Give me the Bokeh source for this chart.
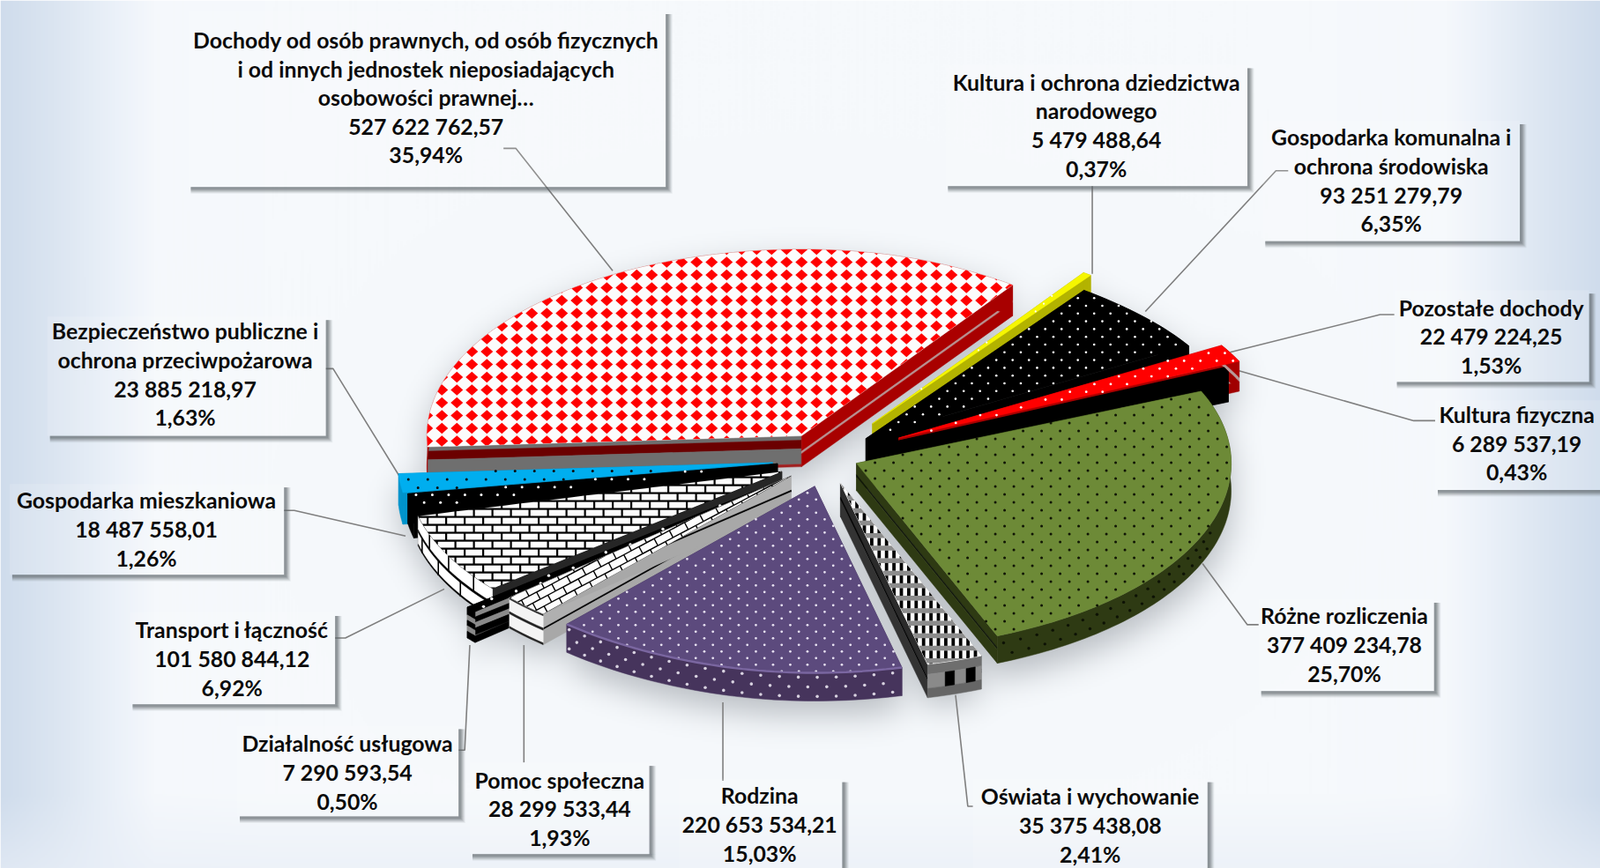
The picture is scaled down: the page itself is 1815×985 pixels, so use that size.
import numpy as np
from bokeh.plotting import figure
from bokeh.models import Range1d
from bokeh.core.properties import value
from bokeh.embed import file_html
from bokeh.resources import INLINE

# ---------- data ----------
names = [
    ["Kultura i ochrona dziedzictwa", "narodowego"],
    ["Gospodarka komunalna i", "ochrona środowiska"],
    ["Pozostałe dochody"],
    ["Kultura fizyczna"],
    ["Różne rozliczenia"],
    ["Oświata i wychowanie"],
    ["Rodzina"],
    ["Pomoc społeczna"],
    ["Działalność usługowa"],
    ["Transport i łączność"],
    ["Gospodarka mieszkaniowa"],
    ["Bezpieczeństwo publiczne i", "ochrona przeciwpożarowa"],
    ["Dochody od osób prawnych, od osób fizycznych", "i od innych jednostek nieposiadających", "osobowości prawnej…"],
]
amounts = [5479488.64, 93251279.79, 22479224.25, 6289537.19, 377409234.78, 35375438.08,
           220653534.21, 28299533.44, 7290593.54, 101580844.12, 18487558.01, 23885218.97,
           527622762.57]
percents = [0.37, 6.35, 1.53, 0.43, 25.70, 2.41, 15.03, 1.93, 0.50, 6.92, 1.26, 1.63, 35.94]
explode = [97, 65, 97, 75, 38, 60, 58, 58, 109, 59, 59, 66, 56]
nudge_x = [0, 0, 0, 0, 2, 0, 2, 2, 4, 3, 3, 5, 0]
nudge_y = [0, 0, 0, 0, 0, 2, 6, 2, 4, 4, 2, 3, 0]
depths = [34, 34, 34, 34, 31, 38, 32, 35, 35, 34, 34, 36, 35]

# ---------- layout ----------
W, H = 1815, 985
S = 1815 / 1568
CX, CY, R, K, DEPTH, START = 935, 518, 425, 0.498, 34, 36.0
ctop = lambda y: H - y

# box (l,t,r,b), centre x, first line y, line step -- reference px / S
boxes = [
    (926, 63, 1222, 182, 1074, 81, 28.2),
    (1237, 118, 1489, 236, 1363, 135, 28.2),
    (1366, 284, 1557, 374, 1461, 302, 28.2),
    (1406, 392, 1575, 480, 1486, 407, 28.2),
    (1233, 587, 1405, 677, 1317, 604, 28.4),
    (953, 763, 1183, 870, 1068, 781, 28.4),
    (665, 763, 825, 870, 744, 780, 28.6),
    (460, 747, 636, 837, 548, 765, 28.4),
    (232, 711, 449, 800, 340, 729, 28.4),
    (127, 600, 328, 690, 227, 618, 28.4),
    (9, 474, 278, 563, 143, 491, 28.4),
    (46, 310, 319, 427, 181, 325, 28.3),
    (184, 10, 652, 183, 417, 40, 28.0),
]
leaders = [
    [(1070, 182), (1070, 268)],
    [(1262, 167), (1250, 167), (1122, 305)],
    [(1366, 308), (1352, 308), (1205, 345)],
    [(1406, 412), (1385, 412), (1210, 362)],
    [(1233, 612), (1222, 612), (1178, 552)],
    [(953, 790), (948, 790), (936, 681)],
    [(708, 765), (708, 688)],
    [(513, 747), (513, 632)],
    [(449, 735), (455, 735), (460, 632)],
    [(328, 625), (338, 625), (435, 577)],
    [(278, 500), (288, 500), (397, 525)],
    [(319, 361), (326, 361), (392, 468)],
    [(493, 145), (505, 145), (600, 265)],
]

# ---------- geometry from values ----------
total = sum(amounts)
spans = [v / total * 360 for v in amounts]
a_from = START + np.concatenate([[0], np.cumsum(spans)[:-1]])
a_to = a_from + np.array(spans)


def pt(tip, a, r=R):
    # slight perspective: the front of the pie turns towards the viewer, the far right narrows
    m = a % 360
    a = a - 2.2 * np.exp(-((m - 168) / 38.0) ** 2)
    sx = 1 - .045 * np.exp(-((m - 30) / 22.0) ** 2) - .045 * np.exp(-((m - 195) / 28.0) ** 2)
    t = np.radians(a)
    return np.array([tip[0] + sx * r * np.sin(t), tip[1] - K * r * np.cos(t)])


def slice_geo(i):
    mid = (a_from[i] + a_to[i]) / 2
    tip = pt((CX, CY), mid, explode[i] * 415 / R) + [nudge_x[i], nudge_y[i]]
    ang = np.linspace(a_from[i], a_to[i], max(6, int(spans[i] / 1.2)))
    arc = np.array([pt(tip, a) for a in ang])
    top = np.vstack([[tip], arc])
    return tip, ang, arc, top


# ---------- background with soft shadow ----------
sc = 2
w2, h2 = W // sc, H // sc
xx, yy = np.meshgrid((np.arange(w2) + .5) * sc, (np.arange(h2) + .5) * sc)
edge = np.minimum(xx, W - xx)
stops_d = [0, 60, 130, 175, 300]
stops_c = [(207, 220, 236), (219, 229, 241), (235, 241, 249), (245, 248, 252), (246, 249, 252)]
img = np.stack([np.interp(edge, stops_d, [c[j] for c in stops_c]) for j in range(3)], axis=-1)
bot = np.clip((yy - 900) / 85, 0, 1)[..., None]
img = img * (1 - bot * .65) + np.array([232, 238, 247]) * bot * .65

mask = np.zeros((h2, w2))
for i in range(len(amounts)):
    _, _, _, top = slice_geo(i)
    for dz in (0, DEPTH / 2, DEPTH):
        q = top + [0, dz + 14]
        ok = np.ones_like(mask, bool)
        area = np.sum(q[:, 0] * np.roll(q[:, 1], -1) - np.roll(q[:, 0], -1) * q[:, 1])
        sgn = np.sign(area)
        for a, b in zip(q, np.roll(q, -1, axis=0)):
            ok &= sgn * ((b[0] - a[0]) * (yy - a[1]) - (b[1] - a[1]) * (xx - a[0])) >= 0
        mask[ok] = 1
fy = np.fft.fftfreq(h2)[:, None]
fx = np.fft.fftfreq(w2)[None, :]
sig = 9.0
blur = np.real(np.fft.ifft2(np.fft.fft2(mask) * np.exp(-2 * (np.pi * sig) ** 2 * (fx ** 2 + fy ** 2))))
alpha = np.clip(blur, 0, 1)[..., None] * .38
img = img * (1 - alpha) + np.array([88, 95, 104]) * alpha
rgba = np.zeros((h2, w2), dtype=np.uint32)
view = rgba.view(np.uint8).reshape(h2, w2, 4)
view[..., :3] = np.clip(img, 0, 255).astype(np.uint8)
view[..., 3] = 255

p = figure(width=W, height=H, x_range=Range1d(0, W), y_range=Range1d(0, H),
           output_backend="svg", toolbar_location=None, min_border=0)
p.axis.visible = False
p.grid.visible = False
p.outline_line_color = None
p.image_rgba(image=[rgba[::-1]], x=0, y=0, dw=W, dh=H)

# ---------- leader lines ----------
for seg in leaders:
    p.line([a * S for a, _ in seg], [ctop(b * S) for _, b in seg], line_color="#7f7f7f", line_width=1.6)


# ---------- helpers ----------
def fill(pts, col):
    pts = np.asarray(pts)
    p.patch(pts[:, 0], ctop(pts[:, 1]), fill_color=col, line_color=col, line_width=.5)


def clip(subject, poly):
    area = np.sum(poly[:, 0] * np.roll(poly[:, 1], -1) - np.roll(poly[:, 0], -1) * poly[:, 1])
    sgn = np.sign(area)
    out = [np.asarray(s, float) for s in subject]
    for a, b in zip(poly, np.roll(poly, -1, axis=0)):
        ins = lambda c: sgn * ((b[0] - a[0]) * (c[1] - a[1]) - (b[1] - a[1]) * (c[0] - a[0])) >= 0
        new = []
        for j, c in enumerate(out):
            d = out[(j + 1) % len(out)]
            ic, id_ = ins(c), ins(d)
            if ic:
                new.append(c)
            if ic != id_:
                e, f = d - c, b - a
                den = e[0] * f[1] - e[1] * f[0]
                if abs(den) > 1e-9:
                    u = ((a[0] - c[0]) * f[1] - (a[1] - c[1]) * f[0]) / den
                    new.append(c + u * e)
        out = new
        if not out:
            return []
    return out


def cells(cs, poly, col):
    xs, ys = [], []
    for c in cs:
        r = clip(c, poly)
        if len(r) >= 3:
            r = np.array(r)
            xs.append(list(r[:, 0]))
            ys.append(list(ctop(r[:, 1])))
    if xs:
        p.patches(xs, ys, fill_color=col, line_color=None)


def inside(pts, poly):
    area = np.sum(poly[:, 0] * np.roll(poly[:, 1], -1) - np.roll(poly[:, 0], -1) * poly[:, 1])
    sgn = np.sign(area)
    ok = np.ones(len(pts), bool)
    for a, b in zip(poly, np.roll(poly, -1, axis=0)):
        ok &= sgn * ((b[0] - a[0]) * (pts[:, 1] - a[1]) - (b[1] - a[1]) * (pts[:, 0] - a[0])) >= 1.5
    return pts[ok]


def lattice(poly, dx, dy, stagger=True):
    y = np.arange(poly[:, 1].min() - dy, poly[:, 1].max() + dy, dy)
    pts = []
    for n, v in enumerate(y):
        x = np.arange(poly[:, 0].min() - dx, poly[:, 0].max() + dx, dx) + (n % 2) * dx / 2 * stagger
        pts += [(u, v) for u in x]
    return np.array(pts)


def dots(poly, col, size, dx=18.5, dy=8.8):
    pts = inside(lattice(poly, dx, dy), poly)
    if len(pts):
        p.scatter(pts[:, 0], ctop(pts[:, 1]), marker="circle", size=size, fill_color=col, line_color=None)


def diamonds(poly):
    cs = [np.array([(x, y - 6.3), (x + 7, y), (x, y + 6.3), (x - 7, y)]) for x, y in lattice(poly, 17, 14.5, False)]
    cells(cs, poly, "#ff0000")


def bricks(poly, bw, bh, col, rot=0.0, gap=2.2):
    c0 = poly.mean(axis=0)
    span = np.ptp(poly, axis=0).max() + 80
    rad = np.radians(rot)
    rm = np.array([[np.cos(rad), -np.sin(rad)], [np.sin(rad), np.cos(rad)]])
    cs = []
    nx, ny = int(span / bw), int(span / bh)
    for j in range(-ny, ny):
        for m in range(-nx, nx):
            x0 = m * bw + (j % 2) * bw / 2
            y0 = j * bh
            r = np.array([(x0, y0), (x0 + bw - gap, y0), (x0 + bw - gap, y0 + bh - gap), (x0, y0 + bh - gap)])
            cs.append(r @ rm.T + c0)
    cells(cs, poly, col)


def checks(poly):
    # white ground, grey bands and rows of black bars
    fill(poly, "#ffffff")
    bands, bars = [], []
    ymin, ymax = poly[:, 1].min(), poly[:, 1].max()
    xmin, xmax = poly[:, 0].min(), poly[:, 0].max()
    for y in np.arange(ymin, ymax, 14.2):
        bands.append(np.array([(xmin, y), (xmax, y), (xmax, y + 5.5), (xmin, y + 5.5)]))
        for x in np.arange(xmin, xmax, 8.4):
            bars.append(np.array([(x, y + 5.5), (x + 3.8, y + 5.5), (x + 3.8, y + 14.2), (x, y + 14.2)]))
    cells(bands, poly, "#8c8c8c")
    cells(bars, poly, "#000000")


def face(a, b, bands):
    a, b = np.asarray(a), np.asarray(b)
    for f0, f1, col in bands:
        fill([a + [0, f0 * DEPTH], b + [0, f0 * DEPTH], b + [0, f1 * DEPTH], a + [0, f1 * DEPTH]], col)


def arc_strip(arc, bands):
    for f0, f1, col in bands:
        up = arc + [0, f0 * DEPTH]
        lo = arc[::-1] + [0, f1 * DEPTH]
        fill(np.vstack([up, lo]), col)


def arc_dots(tip, i, col, size, rows=(.3, .72), step=2.9, amin=0):
    ang = np.arange(max(a_from[i], amin) + step / 2, a_to[i], step)
    for n, f in enumerate(rows):
        pts = np.array([pt(tip, a) + [0, f * DEPTH] for a in ang + (n % 2) * step / 2 if a < a_to[i]])
        if len(pts):
            p.scatter(pts[:, 0], ctop(pts[:, 1]), marker="circle", size=size, fill_color=col, line_color=None)


def one(col):
    return [(0, 1, col)]


style = {
    0: dict(top="#f6f600", side=one("#b3b300"), dot=("#ffffff", 2.2)),
    1: dict(top="#000000", side=one("#000000"), dot=("#ffffff", 2.6)),
    2: dict(top="#ff0000", side=[(0, .55, "#aa0000"), (.55, .68, "#b89a9a"), (.68, 1, "#a00000")], dot=("#ffffff", 2.8)),
    3: dict(top="#000000", side=one("#000000")),
    4: dict(top="#6d8a37", side=[(0, .42, "#2e3a13"), (.42, .5, "#11170a"), (.5, 1, "#2e3a13")], dot=("#101505", 3.0), grid=(21, 9)),
    5: dict(top="#ffffff", side=[(0, .42, "#2b2b2b"), (.42, .5, "#000000"), (.5, 1, "#333333")]),
    6: dict(top="#5c4a7d", side=one("#46345c"), dot=("#e8e2f2", 2.8), grid=(19.5, 7.5)),
    7: dict(top="#ffffff", side=[(0, .46, "#b0b0b0"), (.46, .52, "#000000"), (.52, 1, "#a8a8a8")]),
    8: dict(top="#000000", side=[(0, .25, "#000000"), (.25, .42, "#8a8a8a"), (.42, .6, "#000000"), (.6, .78, "#8a8a8a"), (.78, 1, "#000000")], dot=("#ffffff", 3.4)),
    9: dict(top="#000000", side=one("#262626")),
    10: dict(top="#000000", side=one("#000000"), dot=("#ffffff", 3.0)),
    11: dict(top="#00aeef", side=one("#0094cc"), dot=("#0b0b0b", 3.0), grid=(22, 9.5)),
    12: dict(top="#fcfcfc", side=one("#a80000")),
}

order = [12, 11, 10, 9, 8, 7, 6, 0, 1, 2, 3, 5, 4]
for i in order:
    tip, ang, arc, top = slice_geo(i)
    st = style[i]
    DEPTH = depths[i]
    if i == 12:
        # the start edge faces the viewer in grey and maroon, the end edge in red
        face(tip, arc[0], [(0, .14, "#6e6e6e"), (.14, .42, "#6b0000"), (.42, .92, "#6f6f6f"), (.92, 1, "#a02020")])
        face(tip, arc[-1], [(0, .5, "#ab0000"), (.5, .58, "#b89090"), (.58, 1, "#a80000")])
    else:
        face(tip, arc[0], st["side"])
        face(tip, arc[-1], st["side"])
    # outer rim
    if i == 9:
        arc_strip(arc, [(0, 1, "#ffffff")])
        arc_strip(arc, [(.46, .54, "#000000"), (.94, 1, "#000000")])
        for n, a in enumerate(np.arange(a_from[i] + 1, a_to[i], 3.6)):
            f0, f1 = (0, .5) if n % 2 else (.5, 1)
            q = pt(tip, a)
            p.line([q[0], q[0]], [ctop(q[1] + f0 * DEPTH), ctop(q[1] + f1 * DEPTH)], line_color="#000000", line_width=1.6)
    elif i == 7:
        arc_strip(arc, [(0, 1, "#f4f4f4"), (.02, .06, "#222222"), (.46, .53, "#222222"), (.94, 1, "#222222")])
    elif i == 5:
        arc_strip(arc, [(0, .3, "#6e6e6e"), (.3, .72, "#8a8a8a"), (.72, 1, "#666666")])
        for a in np.arange(a_from[i] + 1, a_to[i] - 1, 3.4):
            fill(np.vstack([[pt(tip, a) + [0, .3 * DEPTH], pt(tip, a + 1.5) + [0, .3 * DEPTH]],
                            [pt(tip, a + 1.5) + [0, .72 * DEPTH], pt(tip, a) + [0, .72 * DEPTH]]]), "#000000")
    elif i == 6:
        arc_strip(arc, one("#46345c"))
        arc_dots(tip, i, "#d8d2e0", 3.6, rows=(.16, .5, .84))
    elif i == 4:
        arc_strip(arc, one("#2e3a13"))
        arc_dots(tip, i, "#0d1205", 3.4, amin=108)
    else:
        arc_strip(arc, st["side"])

    fill(top, st["top"])
    if i == 12:
        diamonds(top)
    elif i == 9:
        bricks(top, 21, 9.0, "#fdfdfd")
    elif i == 7:
        fill(top, "#000000")
        bricks(top, 19.5, 9.0, "#fdfdfd", rot=-28, gap=1.4)
    elif i == 5:
        checks(top)
    elif "dot" in st:
        dots(top, *st["dot"], *st.get("grid", (18.5, 8.8)))
    if i == 6:
        # highlight along the rim
        p.line(arc[:, 0], ctop(arc[:, 1]), line_color="#7a66a0", line_width=2.4)

# ---------- labels ----------
def fmt(v):
    s = f"{v:,.2f}"
    whole, dec = s.split(".")
    return whole.replace(",", " ") + "," + dec


for i, (l, t, r, b, cx, y0, dy) in enumerate(boxes):
    L, T, Rr, B = l * S, t * S, r * S, b * S
    p.quad(left=[L], right=[Rr], top=[ctop(T)], bottom=[ctop(B)], fill_color="#ffffff", fill_alpha=.14, line_color=None)
    for off, al in ((7.5, .08), (6.5, .12), (5.5, .15), (4.5, .18), (3.5, .22), (2.5, .25)):
        p.quad(left=[L + 3, Rr], right=[Rr + off, Rr + off], top=[ctop(B), ctop(T + 4)],
               bottom=[ctop(B + off), ctop(B)], fill_color="#5d6267", fill_alpha=al, line_color=None)
    rows = names[i] + [fmt(amounts[i]), f"{percents[i]:.2f}%".replace(".", ",")]
    p.text([cx * S] * len(rows), [ctop((y0 + n * dy) * S - 1) for n in range(len(rows))], text=rows,
           text_font=value("Lato"), text_font_style="bold", text_font_size="24.8px", text_color="#0b0b0b",
           text_align="center", text_baseline="middle")

open("out.html", "w").write(file_html(p, INLINE))
